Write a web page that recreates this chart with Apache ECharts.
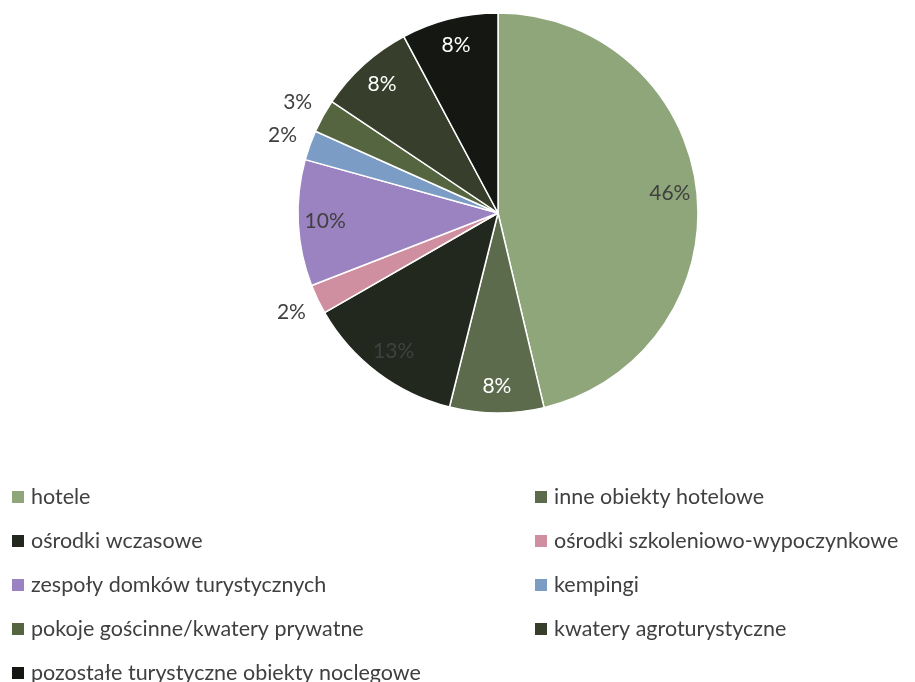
<!DOCTYPE html>
<html>
<head>
<meta charset="utf-8">
<script src="https://cdn.jsdelivr.net/npm/echarts@6/dist/echarts.min.js"></script>
<style>
  html, body { margin: 0; padding: 0; background: #fff; }
  #chart { width: 915px; height: 682px; }
</style>
</head>
<body>
<div id="chart"></div>
<script>
// kategorie obiektów noclegowych
const categories = [
  'hotele',
  'inne obiekty hotelowe',
  'ośrodki wczasowe',
  'ośrodki szkoleniowo-wypoczynkowe',
  'zespoły domków turystycznych',
  'kempingi',
  'pokoje gościnne/kwatery prywatne',
  'kwatery agroturystyczne',
  'pozostałe turystyczne obiekty noclegowe'
]
// udział w %
const shares = [46.3, 7.6, 12.8, 2.4, 10.2, 2.4, 2.7, 7.8, 7.8]
const colors = ['#8fa67a', '#5c6b4b', '#23281e', '#d08fa0', '#9b82c1', '#7b9cc4', '#54653f', '#373f2c', '#151812']
// kolor etykiet i gdzie stoją (w środku / na zewnątrz)
const labelColors = ['#404040', '#ffffff', '#404040', '#404040', '#404040', '#404040', '#404040', '#ffffff', '#ffffff']
const labelOutside = [false, false, false, true, false, true, true, false, false]

const font = 'Lato'
const cx = 498, cy = 213, r = 200

const pieData = categories.map((name, i) => ({
  name: name,
  value: shares[i],
  itemStyle: { color: colors[i] }
}))

// przezroczysta seria tylko dla etykiet
const labelSeries = (outside, outer) => ({
  type: 'pie',
  silent: true,
  center: [cx, cy],
  radius: [0, outer],
  startAngle: 90,
  clockwise: true,
  avoidLabelOverlap: false,
  legendHoverLink: false,
  emphasis: { disabled: true },
  itemStyle: { color: 'transparent', borderWidth: 0 },
  labelLine: { show: false },
  data: categories.map((name, i) => ({
    name: name,
    value: shares[i],
    label: {
      show: labelOutside[i] === outside,
      position: 'inside',
      color: labelColors[i],
      fontFamily: font,
      fontSize: 21,
      formatter: p => Math.round(p.value) + '%'
    }
  }))
})

const legendBase = {
  orient: 'vertical',
  icon: 'rect',
  padding: 0,
  height: 240,
  itemWidth: 12,
  itemHeight: 12,
  itemGap: 22,
  selectedMode: false,
  itemStyle: { borderWidth: 0 },
  textStyle: { color: '#404040', fontFamily: font, fontSize: 21.5, lineHeight: 22, padding: [0, 0, 0, 2] }
}

const chart = echarts.init(document.getElementById('chart'))
chart.setOption({
  animation: false,
  legend: [
    Object.assign({}, legendBase, { left: 12, top: 486, data: categories.filter((c, i) => i % 2 === 0) }),
    Object.assign({}, legendBase, { left: 535, top: 486, data: categories.filter((c, i) => i % 2 === 1) })
  ],
  series: [
    {
      type: 'pie',
      name: 'udział',
      center: [cx, cy],
      radius: [0, r],
      startAngle: 90,
      clockwise: true,
      label: { show: false },
      labelLine: { show: false },
      emphasis: { scale: false },
      itemStyle: { borderColor: '#ffffff', borderWidth: 1.5 },
      data: pieData
    },
    labelSeries(false, 340),
    labelSeries(true, 452)
  ]
})
</script>
</body>
</html>
